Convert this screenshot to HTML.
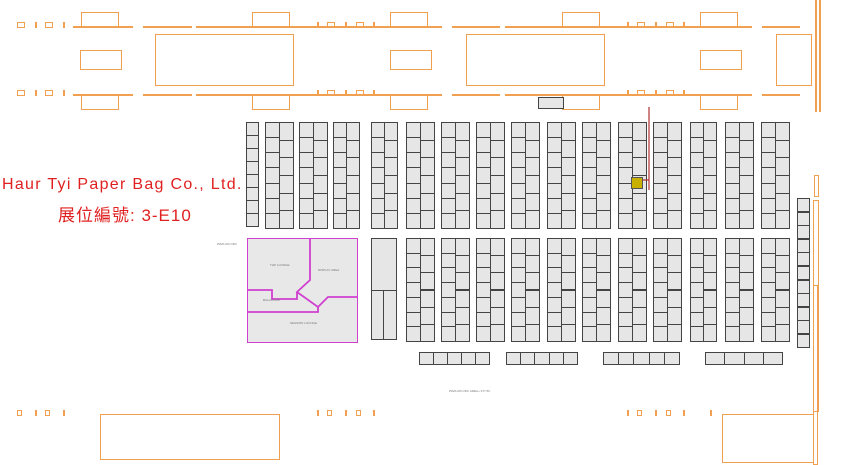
<!DOCTYPE html><html><head><meta charset="utf-8"><style>
body{margin:0;width:844px;height:463px;background:#fff;overflow:hidden;position:relative;font-family:"Liberation Sans",sans-serif}
.o{position:absolute;border:1.5px solid #f0a050;box-sizing:border-box}
.l{position:absolute;background:#f0a050}
.b{position:absolute;background:#e6e6e6;border:1.2px solid #444;box-sizing:border-box}
.t{position:absolute;font-size:3px;color:#777}
</style></head><body>
<div id="c"></div>
<div style="position:absolute;left:247px;top:238px;width:111px;height:105px;background:#e8e8e8;border:1.8px solid #d040d0;box-sizing:border-box"></div>
<svg style="position:absolute;left:0;top:0" width="844" height="463">
<g stroke="#d040d0" stroke-width="1.8" fill="none">
<polyline points="310,238 310,280 297,292 318,307 328,297 358,297"/>
<polyline points="247,290 272,290 272,299 297,299 297,292"/>
<polyline points="247,312 318,312 318,307"/>
</g>
<g stroke="#b03030" stroke-width="1.2"><line x1="649" y1="107" x2="649" y2="190"/><line x1="643" y1="180" x2="649" y2="180"/></g>
</svg>
<div style="position:absolute;left:631px;top:177px;width:12px;height:12px;background:#c8b000;border:1px solid #555;box-sizing:border-box"></div>
<div style="position:absolute;left:2px;top:176px;font-size:16px;color:#e02020;letter-spacing:1.3px;white-space:nowrap">Haur Tyi Paper Bag Co., Ltd.</div>
<div style="position:absolute;left:58px;top:201px;font-size:17px;color:#e02020;letter-spacing:1px;font-family:'Liberation Sans','Noto Sans CJK TC',sans-serif;white-space:nowrap">展位編號: 3-E10</div>
<div class="t" style="left:217px;top:242px">PAVILION OFF</div>
<div class="t" style="left:449px;top:389px">PAVILION OFF AREA+ 377.5C</div>
<div class="t" style="left:270px;top:263px">THP LOUNGE</div>
<div class="t" style="left:318px;top:268px">DISPLAY AREA</div>
<div class="t" style="left:263px;top:298px">BALLROOM</div>
<div class="t" style="left:290px;top:321px">SESSION LOUNGE</div>
<script>
var c=document.getElementById('c'),h='';
function o(x,y,w,hh){h+='<div class="o" style="left:'+x+'px;top:'+y+'px;width:'+w+'px;height:'+hh+'px"></div>'}
function l(x,y,w,hh){h+='<div class="l" style="left:'+x+'px;top:'+y+'px;width:'+w+'px;height:'+hh+'px"></div>'}
function b(x,y,w,hh){h+='<div class="b" style="left:'+x+'px;top:'+y+'px;width:'+w+'px;height:'+hh+'px"></div>'}
[27,95].forEach(function(y){
 l(73,y-1,800-73,2);
 [[17,y-5],[45,y-5],[327,y-5],[356,y-5],[637,y-5],[666,y-5]].forEach(function(p){o(p[0],p[1],8,6)});
 [[35],[63],[317],[345],[373],[627],[655],[683]].forEach(function(p){l(p[0],y-5,1.5,6)});
 var ty=y==27?12:y, th=15;
 [81,252,390,562,700].forEach(function(x){o(x,ty,38,th)});
});
[[133,143],[192,196],[442,452],[500,505],[752,762]].forEach(function(g){h+='<div style="position:absolute;left:'+g[0]+'px;top:24px;width:'+(g[1]-g[0])+'px;height:75px;background:#fff"></div>'});
o(155,34,139,52);o(466,34,139,52);o(776,34,36,52);
o(80,50,42,20);o(390,50,42,20);o(700,50,42,20);
l(815,0,1.5,112);l(819,0,1.5,112);o(814,175,5,22);o(813,200,6,212);o(813,285,5,180);
o(100,414,180,46);o(722,414,92,49);
[17,45,327,356,637,666].forEach(function(x){o(x,410,5,6)});
[35,63,317,345,373,627,655,683,710].forEach(function(x){l(x,410,1.5,6)});
b(538,97,26,12);
var cols=[[265,28],[299,28],[333,26],[371,26],[406,27],[441,27],[476,27],[511,27],[547,27],[582,27],[618,27],[653,27],[690,26],[725,27],[761,27]];
function dcol(x,w,y,H){var hw=Math.round(w/2);
 for(var s=0;s<2;s++){var n=s?6:7,rh=H/n;for(var i=0;i<n;i++)b(x+s*hw,y+i*rh,hw+1,rh+1);}}
for(var i=0;i<8;i++)b(246,122+i*13,13,13.5);
cols.forEach(function(cc){dcol(cc[0],cc[1],122,106);});
b(371,238,26,53);b(371,290,13,50);b(383,290,14,50);
cols.slice(4).forEach(function(cc){dcol(cc[0],cc[1],238,103);});
for(var i=0;i<11;i++)b(797,198+i*13.6,13,14);
[[419,489,5],[506,577,5],[603,679,5],[705,782,4]].forEach(function(r){var n=r[2],w=(r[1]-r[0])/n;for(var i=0;i<n;i++)b(r[0]+i*w,352,w+1,13);});
c.innerHTML=h;
</script>
</body></html>
